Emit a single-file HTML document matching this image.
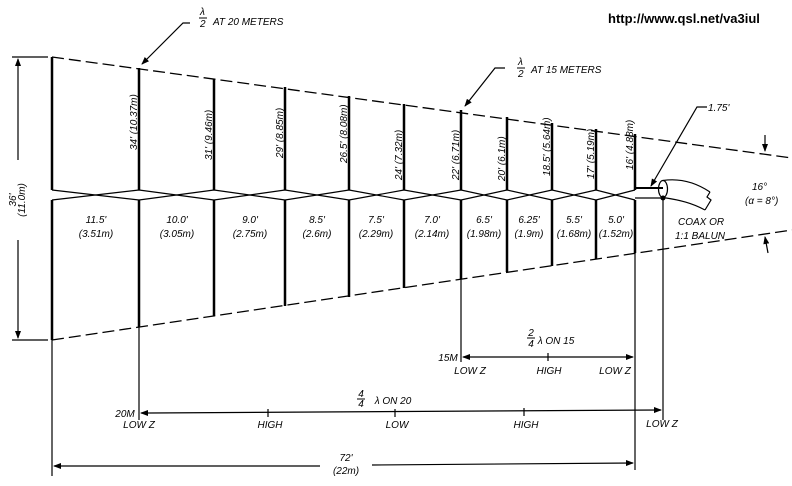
<!DOCTYPE html>
<html><head><meta charset="utf-8"><style>
html,body{margin:0;padding:0;background:#fff;}
svg{display:block}
text{font-family:"Liberation Sans",sans-serif;font-style:italic;font-size:10px;fill:#000}
.url{font-style:normal;font-weight:bold;font-size:13px}
</style></head><body>
<svg width="792" height="486" viewBox="0 0 792 486" xmlns="http://www.w3.org/2000/svg">
<defs>
<marker id="ar" markerWidth="8" markerHeight="6" refX="7" refY="3" orient="auto" markerUnits="userSpaceOnUse"><path d="M0,0 L8,3 L0,6 z" fill="#000"/></marker>
</defs>
<text class="url" x="608" y="23">http://www.qsl.net/va3iul</text>
<g stroke="#000" stroke-width="1.3" stroke-dasharray="12,5" fill="none">
<line x1="52" y1="57" x2="792" y2="158"/>
<line x1="52" y1="340" x2="792" y2="230"/>
</g>
<g stroke="#000" stroke-width="2.5">
<line x1="52" y1="57" x2="52" y2="190"/><line x1="52" y1="200" x2="52" y2="340"/>
<line x1="139" y1="68" x2="139" y2="190"/><line x1="139" y1="200" x2="139" y2="327"/>
<line x1="214" y1="79" x2="214" y2="190"/><line x1="214" y1="200" x2="214" y2="316"/>
<line x1="285" y1="87" x2="285" y2="190"/><line x1="285" y1="200" x2="285" y2="306"/>
<line x1="349" y1="96" x2="349" y2="190"/><line x1="349" y1="200" x2="349" y2="297"/>
<line x1="404" y1="104" x2="404" y2="190"/><line x1="404" y1="200" x2="404" y2="288"/>
<line x1="461" y1="110" x2="461" y2="190"/><line x1="461" y1="200" x2="461" y2="279"/>
<line x1="507" y1="117" x2="507" y2="190"/><line x1="507" y1="200" x2="507" y2="272"/>
<line x1="552" y1="123" x2="552" y2="190"/><line x1="552" y1="200" x2="552" y2="266"/>
<line x1="596" y1="129" x2="596" y2="190"/><line x1="596" y1="200" x2="596" y2="259"/>
<line x1="635" y1="134" x2="635" y2="190"/><line x1="635" y1="200" x2="635" y2="253"/>
</g>
<g stroke="#000" stroke-width="1.2" fill="none">
<polyline points="52,190 139,200 214,190 285,200 349,190 404,200 461,190 507,200 552,190 596,200 635,190"/>
<polyline points="52,200 139,190 214,200 285,190 349,200 404,190 461,200 507,190 552,200 596,190 635,200"/>
<line x1="635" y1="188" x2="663" y2="188" stroke-width="2"/>
<line x1="635" y1="198" x2="663" y2="198"/>
<ellipse cx="663" cy="189" rx="4.5" ry="8.5"/>
<path d="M663,180.5 C680,178 695,182 710,192"/>
<path d="M663,197.5 C680,200 692,203 705,210"/>
<path d="M710,192 L707,197 L711,200 L705,210"/>
</g>
<circle cx="663" cy="198" r="2.5" fill="#000"/>
<g stroke="#000" stroke-width="1.2">
<line x1="52" y1="340" x2="52" y2="476"/>
<line x1="139" y1="327" x2="139" y2="420"/>
<line x1="461" y1="279" x2="461" y2="362"/>
<line x1="635" y1="253" x2="635" y2="470"/>
<line x1="663" y1="200" x2="663" y2="420"/>
<line x1="12" y1="57" x2="48" y2="57"/><line x1="12" y1="340" x2="48" y2="340"/>
<line x1="18" y1="160" x2="18" y2="59" marker-end="url(#ar)"/>
<line x1="18" y1="240" x2="18" y2="338" marker-end="url(#ar)"/>
<line x1="470" y1="357" x2="463" y2="357" marker-end="url(#ar)"/>
<line x1="470" y1="357" x2="633" y2="357" marker-end="url(#ar)"/>
<line x1="548" y1="353" x2="548" y2="361"/>
<line x1="150" y1="413" x2="141" y2="413" marker-end="url(#ar)"/>
<line x1="150" y1="413" x2="661" y2="410" marker-end="url(#ar)"/>
<line x1="268" y1="409" x2="268" y2="417"/>
<line x1="395" y1="409" x2="395" y2="417"/>
<line x1="524" y1="408" x2="524" y2="416"/>
<line x1="60" y1="466" x2="54" y2="466" marker-end="url(#ar)"/>
<line x1="60" y1="466" x2="320" y2="466"/>
<line x1="372" y1="465" x2="633" y2="463" marker-end="url(#ar)"/>
<polyline points="190,23 183,23 142,64" fill="none" marker-end="url(#ar)"/>
<polyline points="505,68 495,68 465,106" fill="none" marker-end="url(#ar)"/>
<polyline points="707,107 697,107 651,186" fill="none" marker-end="url(#ar)"/>
<line x1="765" y1="135" x2="765" y2="151" marker-end="url(#ar)"/>
<line x1="768" y1="253" x2="765" y2="237" marker-end="url(#ar)"/>
</g>
<text x="200" y="15" font-size="9">λ</text><line x1="199" y1="18" x2="207" y2="18" stroke="#000"/><text x="200" y="27" font-size="8">2</text>
<text x="213" y="25">AT 20 METERS</text>
<text x="518" y="65" font-size="9">λ</text><line x1="517" y1="68" x2="525" y2="68" stroke="#000"/><text x="518" y="77" font-size="8">2</text>
<text x="531" y="73">AT 15 METERS</text>
<text x="708" y="111">1.75'</text>
<text x="752" y="190">16°</text>
<text x="745" y="204">(α = 8°)</text>
<text x="678" y="225">COAX OR</text>
<text x="675" y="239">1:1 BALUN</text>
<text transform="translate(16,200) rotate(-90)" text-anchor="middle">36'</text>
<text transform="translate(25,200) rotate(-90)" text-anchor="middle">(11.0m)</text>
<g text-anchor="start">
<text transform="translate(137,150) rotate(-90)">34' (10.37m)</text>
<text transform="translate(212,160) rotate(-90)">31' (9.46m)</text>
<text transform="translate(283,158) rotate(-90)">29' (8.85m)</text>
<text transform="translate(347,163) rotate(-90)">26.5' (8.08m)</text>
<text transform="translate(402,180) rotate(-90)">24' (7.32m)</text>
<text transform="translate(459,180) rotate(-90)">22' (6.71m)</text>
<text transform="translate(505,181) rotate(-90)">20' (6.1m)</text>
<text transform="translate(550,176) rotate(-90)">18.5' (5.64m)</text>
<text transform="translate(594,179) rotate(-90)">17' (5.19m)</text>
<text transform="translate(633,170) rotate(-90)">16' (4.88m)</text>
</g>
<g text-anchor="middle">
<text x="96" y="223">11.5'</text><text x="96" y="237">(3.51m)</text>
<text x="177" y="223">10.0'</text><text x="177" y="237">(3.05m)</text>
<text x="250" y="223">9.0'</text><text x="250" y="237">(2.75m)</text>
<text x="317" y="223">8.5'</text><text x="317" y="237">(2.6m)</text>
<text x="376" y="223">7.5'</text><text x="376" y="237">(2.29m)</text>
<text x="432" y="223">7.0'</text><text x="432" y="237">(2.14m)</text>
<text x="484" y="223">6.5'</text><text x="484" y="237">(1.98m)</text>
<text x="529" y="223">6.25'</text><text x="529" y="237">(1.9m)</text>
<text x="574" y="223">5.5'</text><text x="574" y="237">(1.68m)</text>
<text x="616" y="223">5.0'</text><text x="616" y="237">(1.52m)</text>
<text x="531" y="336" font-size="8">2</text><line x1="527" y1="338" x2="535" y2="338" stroke="#000"/><text x="531" y="347" font-size="8">4</text>
<text x="556" y="344" font-size="10">λ ON 15</text>
<text x="448" y="361" font-size="9">15M</text>
<text x="470" y="374">LOW Z</text>
<text x="549" y="374">HIGH</text>
<text x="615" y="374">LOW Z</text>
<text x="361" y="397" font-size="8">4</text><line x1="357" y1="399" x2="365" y2="399" stroke="#000"/><text x="361" y="407" font-size="8">4</text>
<text x="393" y="404">λ ON 20</text>
<text x="125" y="417" font-size="9">20M</text>
<text x="139" y="428">LOW Z</text>
<text x="270" y="428">HIGH</text>
<text x="397" y="428">LOW</text>
<text x="526" y="428">HIGH</text>
<text x="662" y="427">LOW Z</text>
<text x="346" y="461">72'</text>
<text x="346" y="474">(22m)</text>
</g>
</svg>
</body></html>
